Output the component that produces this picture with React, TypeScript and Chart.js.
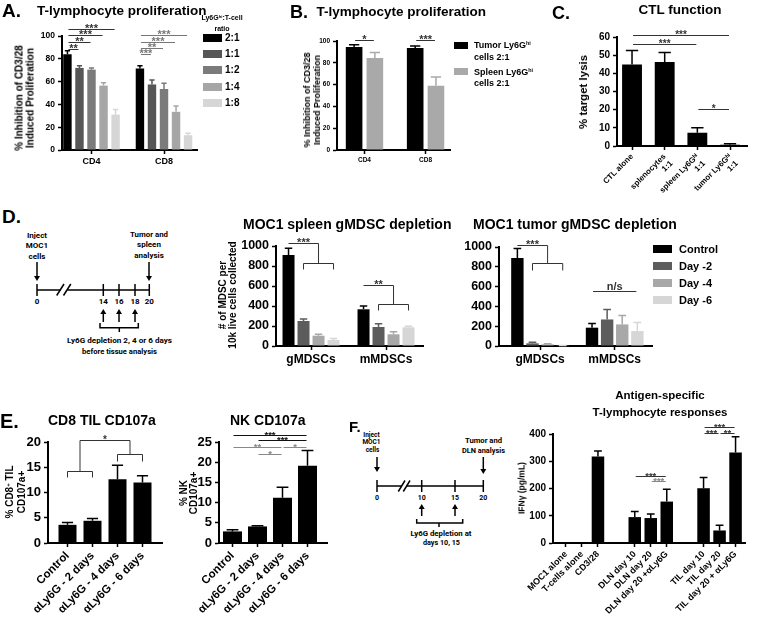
import React, { useEffect, useRef } from 'react';
import { Chart, registerables } from 'chart.js';

Chart.register(...registerables);

const FONT = "'Liberation Sans', Arial, Helvetica, sans-serif";
const TFONT = "Roboto, 'Liberation Sans', sans-serif";
Chart.defaults.font.family = FONT;
Chart.defaults.font.weight = 'bold';
Chart.defaults.color = '#000';

// ---------------- DATA ----------------
// A. T-lymphocyte proliferation
const aCategories = ['CD4', 'CD8'];
const aSeries = ['2:1', '1:1', '1:2', '1:4', '1:8'];
const aValues = [[84, 71.5], [72, 57.5], [70.5, 53.5], [56.5, 33.5], [31, 13]];
const aErrors = [[3, 2.5], [2, 4], [1.5, 5], [2.5, 5], [4.5, 1.7]];

// B. T-lymphocyte proliferation (tumor vs spleen)
const bCategories = ['CD4', 'CD8'];
const bSeries = ['Tumor', 'Spleen'];
const bValues = [[94.5, 93.5], [84.5, 59]];
const bErrors = [[2, 2], [5, 8]];

// C. CTL function
const cCategories = ['CTL alone', ['splenocytes', '1:1'], ['spleen Ly6Gʰⁱ', '1:1'], ['tumor Ly6Gʰⁱ', '1:1']];
const cValues = [44.8, 46.2, 7.3, 0.7];
const cErrors = [7.8, 5.2, 2.8, 0.6];

// D. gMDSC depletion
const dCategories = ['gMDSCs', 'mMDSCs'];
const dSeries = ['Control', 'Day -2', 'Day -4', 'Day -6'];
const dSpleenValues = [[910, 367], [250, 190], [103, 117], [60, 187]];
const dSpleenErrors = [[67, 33], [20, 33], [14, 26], [16, 10]];
const dTumorValues = [[890, 185], [27, 268], [17, 218], [3, 151]];
const dTumorErrors = [[95, 43], [10, 100], [6, 90], [2, 87]];

// E. CD107a
const eCategories = ['Control', 'αLy6G - 2 days', 'αLy6G - 4 days', 'αLy6G - 6 days'];
const eCd8Values = [3.6, 4.4, 12.6, 12.0];
const eCd8Errors = [0.45, 0.45, 2.8, 1.3];
const eNkValues = [2.87, 4.1, 11.2, 19.1];
const eNkErrors = [0.4, 0.2, 2.6, 3.8];

// F. Antigen-specific responses
const fCategories = ['MOC1 alone', 'T-cells alone', 'CD3/28', 'DLN day 10', 'DLN day 20', 'DLN day 20 +αLy6G', 'TIL day 10', 'TIL day 20', 'TIL day 20 + αLy6G'];
const fGroups = [0, 0, 0, 1, 1, 1, 2, 2, 2];
const fValues = [0, 0, 317, 95, 91.5, 152, 201, 46, 332];
const fErrors = [0, 0, 21, 21, 14.5, 45, 39, 19, 58];

// significance annotations: [dataset, index] refs, y in data units
type Ref2 = [number, number];
type Sig =
  | { kind: 'line'; a: Ref2; b: Ref2; y: number; text: string; color?: string }
  | { kind: 'bracket'; la: Ref2; lb: Ref2; ly: number; lt: number; ra: Ref2; rb: Ref2; ry: number; rt: number; top: number; text: string; color?: string };

const aSig: Sig[] = [
  { kind: 'line', a: [0, 0], b: [1, 0], y: 89, text: '**' },
  { kind: 'line', a: [0, 0], b: [2, 0], y: 94.7, text: '**' },
  { kind: 'line', a: [0, 0], b: [3, 0], y: 100.8, text: '***' },
  { kind: 'line', a: [0, 0], b: [4, 0], y: 106.5, text: '***' },
  { kind: 'line', a: [0, 1], b: [1, 1], y: 84, text: '***', color: '#777' },
  { kind: 'line', a: [0, 1], b: [2, 1], y: 89.8, text: '**', color: '#777' },
  { kind: 'line', a: [0, 1], b: [3, 1], y: 95, text: '***', color: '#777' },
  { kind: 'line', a: [0, 1], b: [4, 1], y: 100.9, text: '***', color: '#777' },
];
const bSig: Sig[] = [
  { kind: 'line', a: [0, 0], b: [1, 0], y: 100.6, text: '*' },
  { kind: 'line', a: [0, 1], b: [1, 1], y: 100.6, text: '***' },
];
const cSig: Sig[] = [
  { kind: 'line', a: [0, 0], b: [0, 2], y: 56.4, text: '***' },
  { kind: 'line', a: [0, 0], b: [0, 3], y: 61.3, text: '***' },
  { kind: 'line', a: [0, 2], b: [0, 3], y: 20.2, text: '*' },
];
const dSpleenSig: Sig[] = [
  { kind: 'bracket', la: [0, 0], lb: [0, 0], ly: 1027, lt: 1027, ra: [1, 0], rb: [3, 0], ry: 833, rt: 770, top: 1027, text: '***' },
  { kind: 'bracket', la: [0, 1], lb: [0, 1], ly: 610, lt: 610, ra: [1, 1], rb: [3, 1], ry: 417, rt: 360, top: 610, text: '**' },
];
const dTumorSig: Sig[] = [
  { kind: 'bracket', la: [0, 0], lb: [0, 0], ly: 1020, lt: 1020, ra: [1, 0], rb: [3, 0], ry: 836, rt: 770, top: 1020, text: '***' },
  { kind: 'line', a: [0, 1], b: [3, 1], y: 555, text: 'n/s' },
];
const eCd8Sig: Sig[] = [
  { kind: 'bracket', la: [0, 0], lb: [0, 1], ly: 14.3, lt: 13.0, ra: [0, 2], rb: [0, 3], ry: 17.6, rt: 16.3, top: 20.3, text: '*' },
];
const eNkSig: Sig[] = [
  { kind: 'line', a: [0, 0], b: [0, 3], y: 26.8, text: '***', color: '#111' },
  { kind: 'line', a: [0, 1], b: [0, 3], y: 25.4, text: '***', color: '#111' },
  { kind: 'line', a: [0, 0], b: [0, 2], y: 23.8, text: '**', color: '#888' },
  { kind: 'line', a: [0, 2], b: [0, 3], y: 23.8, text: '*', color: '#888' },
  { kind: 'line', a: [0, 1], b: [0, 2], y: 22.0, text: '*', color: '#888' },
];
const fSig: Sig[] = [
  { kind: 'line', a: [0, 3], b: [0, 5], y: 247, text: '***' },
  { kind: 'line', a: [0, 4], b: [0, 5], y: 229, text: '***', color: '#888' },
  { kind: 'line', a: [0, 6], b: [0, 8], y: 424, text: '***' },
  { kind: 'line', a: [0, 6], b: [0, 7], y: 402, text: '***' },
  { kind: 'line', a: [0, 7], b: [0, 8], y: 402, text: '**' },
];

// ---------------- STYLES ----------------
const aColors = ['#000000', '#565656', '#7b7b7b', '#a6a6a6', '#d6d6d6'];
const bColors = ['#000000', '#a9a9a9'];
const dColors = ['#000000', '#5c5c5c', '#a8a8a8', '#d6d6d6'];

const YW = 50;
const PADT = 40;
const PADR = 6;

// ---------------- PLUGINS ----------------
const errorBarPlugin = {
  id: 'errbars',
  afterDatasetsDraw(chart: any) {
    const ctx = chart.ctx;
    const ys = chart.scales.y;
    chart.data.datasets.forEach((ds: any, di: number) => {
      if (!ds.errors) return;
      const meta = chart.getDatasetMeta(di);
      ctx.save();
      ctx.strokeStyle = ds.backgroundColor;
      ctx.lineWidth = 1.5;
      meta.data.forEach((bar: any, i: number) => {
        const e = ds.errors[i];
        if (!e) return;
        const v = ds.data[i].y;
        const yTop = ys.getPixelForValue(v + e);
        const w = bar.width * 0.62;
        ctx.beginPath();
        ctx.moveTo(bar.x, bar.y);
        ctx.lineTo(bar.x, yTop);
        ctx.moveTo(bar.x - w / 2, yTop);
        ctx.lineTo(bar.x + w / 2, yTop);
        ctx.stroke();
      });
      ctx.restore();
    });
  },
};

const sigPlugin = {
  id: 'sig',
  afterDatasetsDraw(chart: any, _args: any, opts: any) {
    const items: Sig[] = opts.items || [];
    const size: number = opts.font || 10;
    const ctx = chart.ctx;
    const ys = chart.scales.y;
    const bx = (r: Ref2) => chart.getDatasetMeta(r[0]).data[r[1]].x;
    const py = (v: number) => Math.round(ys.getPixelForValue(v)) + 0.5;
    ctx.save();
    ctx.lineWidth = 1;
    ctx.font = `bold ${size}px ${FONT}`;
    ctx.textAlign = 'center';
    ctx.textBaseline = 'alphabetic';
    const label = (t: string, x: number, y: number) => {
      if (t.includes('*')) ctx.fillText(t, x, y - 2 + 0.43 * size);
      else ctx.fillText(t, x, y - 2);
    };
    const seg = (x1: number, y1: number, x2: number, y2: number) => {
      ctx.beginPath();
      ctx.moveTo(x1, y1);
      ctx.lineTo(x2, y2);
      ctx.stroke();
    };
    for (const it of items) {
      const col = it.color || '#333';
      ctx.strokeStyle = col;
      ctx.fillStyle = col;
      if (it.kind === 'line') {
        const x1 = bx(it.a) + 1;
        const x2 = bx(it.b) - 1;
        const y = py(it.y);
        seg(x1, y, x2, y);
        label(it.text, (x1 + x2) / 2, y);
      } else {
        const la = bx(it.la), lb = bx(it.lb), ra = bx(it.ra), rb = bx(it.rb);
        const ly = py(it.ly), lt = py(it.lt), ry = py(it.ry), rt = py(it.rt), top = py(it.top);
        if (la !== lb) {
          seg(la, lt, la, ly); seg(la, ly, lb, ly); seg(lb, ly, lb, lt);
        }
        if (ra !== rb) {
          seg(ra, rt, ra, ry); seg(ra, ry, rb, ry); seg(rb, ry, rb, rt);
        }
        const xl = (la + lb) / 2, xr = (ra + rb) / 2;
        if (ly !== top) seg(xl, ly, xl, top);
        if (ry !== top) seg(xr, ry, xr, top);
        seg(xl, top, xr, top);
        label(it.text, (xl + xr) / 2, top);
      }
    }
    ctx.restore();
  },
};

// ---------------- CHART COMPONENT ----------------
type Series = { label: string; color: string; values: number[]; errors: number[] };
type Spec = {
  X0: number; X1: number; Yt: number; Yb: number; xH: number;
  categories: (string | string[])[]; xPos: number[]; xMin: number; xMax: number;
  series: Series[]; yMax: number; yStep: number; yFont: number; xFont: number; rot: number;
  catPct: number; barPct: number; sig: Sig[]; sigFont: number;
};

function BarChart({ spec }: { spec: Spec }) {
  const ref = useRef<HTMLCanvasElement>(null);
  const left = spec.X0 - YW;
  const top = spec.Yt - PADT;
  const width = spec.X1 - left + PADR;
  const height = spec.Yb - top + spec.xH;
  useEffect(() => {
    const chart = new Chart(ref.current as HTMLCanvasElement, {
      type: 'bar',
      data: {
        datasets: spec.series.map((s) => ({
          label: s.label,
          data: s.values.map((v, i) => ({ x: spec.xPos[i], y: v })),
          backgroundColor: s.color,
          borderWidth: 0,
          categoryPercentage: spec.catPct,
          barPercentage: spec.barPct,
          errors: s.errors,
        })) as any,
      },
      options: {
        animation: false,
        responsive: false,
        devicePixelRatio: 1,
        events: [],
        layout: { padding: { top: PADT, right: PADR, left: 0, bottom: 0 } },
        plugins: {
          legend: { display: false },
          tooltip: { enabled: false },
          sig: { items: spec.sig, font: spec.sigFont },
        } as any,
        scales: {
          x: {
            type: 'linear',
            min: spec.xMin,
            max: spec.xMax,
            offset: false,
            afterBuildTicks: (s: any) => {
              s.ticks = spec.xPos.map((v) => ({ value: v }));
            },
            afterFit: (s: any) => {
              s.height = spec.xH;
            },
            ticks: {
              autoSkip: false,
              minRotation: spec.rot,
              maxRotation: spec.rot,
              padding: 2,
              font: { size: spec.xFont, weight: 'bold' },
              color: '#000',
              callback: (_v: any, i: number) => spec.categories[i] as any,
            },
            grid: {
              display: true,
              drawOnChartArea: false,
              drawTicks: true,
              tickLength: 4,
              tickColor: '#000',
              tickWidth: 1.5,
              offset: false,
            },
            border: { display: true, color: '#000', width: 2 },
          } as any,
          y: {
            min: 0,
            max: spec.yMax,
            afterFit: (s: any) => {
              s.width = YW;
            },
            ticks: {
              stepSize: spec.yStep,
              padding: 3,
              font: { size: spec.yFont, weight: 'bold' },
              color: '#000',
              callback: (v: any) => String(v),
            },
            grid: { display: true, drawOnChartArea: false, drawTicks: true, tickLength: 4, tickColor: '#000', tickWidth: 1.5 },
            border: { display: true, color: '#000', width: 2 },
          } as any,
        },
      },
      plugins: [errorBarPlugin, sigPlugin],
    });
    return () => chart.destroy();
  }, []);
  return (
    <canvas
      ref={ref}
      width={width}
      height={height}
      style={{ position: 'absolute', left, top, width, height }}
    />
  );
}

// ---------------- TEXT HELPERS ----------------
const Sup = ({ children }: { children: any }) => (
  <sup style={{ fontSize: '0.6em', verticalAlign: 'baseline', position: 'relative', top: '-0.5em' }}>{children}</sup>
);

function T({ x, y, size, children, center = false, weight = 700 }: any) {
  return (
    <div
      style={{
        position: 'absolute', left: x, top: y, fontFamily: FONT, fontWeight: weight, fontSize: size,
        lineHeight: 1, whiteSpace: 'nowrap', color: '#000',
        transform: center ? 'translate(-50%,-50%)' : 'translateY(-50%)',
      }}
    >
      {children}
    </div>
  );
}

function VT({ x, y, size, lh, lines }: any) {
  return (
    <div
      style={{
        position: 'absolute', left: x, top: y, fontFamily: FONT, fontWeight: 700, fontSize: size,
        lineHeight: `${lh}px`, whiteSpace: 'nowrap', textAlign: 'center', color: '#000',
        transform: 'translate(-50%,-50%) rotate(-90deg)',
      }}
    >
      {lines.map((l: any, i: number) => (
        <div key={i}>{l}</div>
      ))}
    </div>
  );
}

function Box({ x, yc, w, h, color }: any) {
  return <div style={{ position: 'absolute', left: x, top: yc - h / 2, width: w, height: h, background: color }} />;
}

// ---------------- TIMELINES ----------------
function Timelines() {
  const st: any = { stroke: '#000', strokeWidth: 1.5, fill: 'none' };
  const down = (x: number, y1: number, y2: number) => (
    <g key={`d${x}${y1}`}>
      <line x1={x} y1={y1} x2={x} y2={y2 - 4} {...st} />
      <path d={`M${x - 3},${y2 - 5} L${x + 3},${y2 - 5} L${x},${y2} Z`} fill="#000" />
    </g>
  );
  const up = (x: number, y1: number, y2: number) => (
    <g key={`u${x}${y1}`}>
      <line x1={x} y1={y1} x2={x} y2={y2 + 4} {...st} />
      <path d={`M${x - 3},${y2 + 5} L${x + 3},${y2 + 5} L${x},${y2} Z`} fill="#000" />
    </g>
  );
  const txt = (x: number, y: number, s: string, size: number, len?: number) => (
    <text
      key={`t${x}${y}${s}`}
      x={x} y={y} fontSize={size} fontFamily={TFONT} fontWeight={700}
      textAnchor="middle" dominantBaseline="central"
      {...(len ? { textLength: len, lengthAdjust: 'spacingAndGlyphs' } : {})}
    >
      {s}
    </text>
  );
  const dTicks = [37, 103.3, 119, 135, 149.3];
  const dNums = ['0', '14', '16', '18', '20'];
  const fTicks = [377, 421.7, 455, 483.3];
  const fNums = ['0', '10', '15', '20'];
  return (
    <svg width={758} height={623} style={{ position: 'absolute', left: 0, top: 0 }}>
      {/* D timeline */}
      {txt(37, 235, 'Inject', 8)}
      {txt(37, 245.5, 'MOC1', 8)}
      {txt(37, 256, 'cells', 8)}
      {down(37, 262, 281)}
      {txt(149, 234, 'Tumor and', 8, 38)}
      {txt(149, 244.5, 'spleen', 8)}
      {txt(149, 255, 'analysis', 8)}
      {down(149, 262, 281)}
      <line x1={37} y1={290} x2={60.5} y2={290} {...st} />
      <line x1={67.5} y1={290} x2={149.3} y2={290} {...st} />
      <line x1={56.7} y1={295.5} x2={64} y2={284} {...st} />
      <line x1={63.5} y1={295.5} x2={70.8} y2={284} {...st} />
      {dTicks.map((x) => <line key={`dt${x}`} x1={x} y1={284} x2={x} y2={296} {...st} />)}
      {dTicks.map((x, i) => txt(x, 301.5, dNums[i], 8))}
      {[103.3, 119, 135].map((x) => up(x, 322, 309))}
      <path d="M100,323 V327.7 H138.3 V323 M119.3,327.7 V332" {...st} />
      {txt(119.5, 340, 'Ly6G depletion 2, 4 or 6 days', 8, 105)}
      {txt(119.5, 351, 'before tissue analysis', 8, 75)}

      {/* F timeline */}
      {txt(371.5, 434.5, 'Inject', 6.5)}
      {txt(371.5, 442, 'MOC1', 6.5)}
      {txt(372.5, 449.5, 'cells', 6.5)}
      {down(377, 457, 472)}
      {txt(483.5, 441, 'Tumor and', 7, 37)}
      {txt(483.5, 451, 'DLN analysis', 7, 43)}
      {down(483.3, 457, 474)}
      <line x1={377} y1={486} x2={401} y2={486} {...st} />
      <line x1={407} y1={486} x2={483.3} y2={486} {...st} />
      <line x1={398.3} y1={491.5} x2={405} y2={480.5} {...st} />
      <line x1={403.3} y1={491.5} x2={410} y2={480.5} {...st} />
      {fTicks.map((x) => <line key={`ft${x}`} x1={x} y1={480} x2={x} y2={492} {...st} />)}
      {fTicks.map((x, i) => txt(x, 497.5, fNums[i], 7))}
      {[421.7, 455].map((x) => up(x, 516, 504))}
      <path d="M416.7,519 V523 H462.7 V519 M439,523 V527" {...st} />
      {txt(441, 534, 'Ly6G depletion at', 7, 61)}
      {txt(441.5, 543, 'days 10, 15', 7, 37)}
    </svg>
  );
}

// ---------------- SPECS ----------------
const mk = (names: string[], colors: string[], vals: number[][], errs: number[][]): Series[] =>
  names.map((n, i) => ({ label: n, color: colors[i], values: vals[i], errors: errs[i] }));

const specA: Spec = {
  X0: 62, X1: 197, Yt: 36, Yb: 150, xH: 25,
  categories: aCategories, xPos: [0, 1], xMin: -0.407, xMax: 1.455,
  series: mk(aSeries, aColors, aValues, aErrors),
  yMax: 100, yStep: 20, yFont: 8.5, xFont: 9, rot: 0, catPct: 0.83, barPct: 0.7, sig: aSig, sigFont: 11,
};
const specB: Spec = {
  X0: 337, X1: 450, Yt: 41, Yb: 150, xH: 25,
  categories: bCategories, xPos: [0, 1], xMin: -0.45, xMax: 1.4,
  series: mk(bSeries, bColors, bValues, bErrors),
  yMax: 100, yStep: 20, yFont: 6.5, xFont: 6.5, rot: 0, catPct: 0.68, barPct: 0.8, sig: bSig, sigFont: 11,
};
const specC: Spec = {
  X0: 617, X1: 747, Yt: 37, Yb: 146, xH: 60,
  categories: cCategories, xPos: [0, 1, 2, 3], xMin: -0.46, xMax: 3.52,
  series: [{ label: 'CTL', color: '#000', values: cValues, errors: cErrors }],
  yMax: 60, yStep: 10, yFont: 10, xFont: 8, rot: 45, catPct: 0.8, barPct: 0.76, sig: cSig, sigFont: 10,
};
const specDS: Spec = {
  X0: 276, X1: 423, Yt: 246, Yb: 346, xH: 25,
  categories: dCategories, xPos: [0, 1], xMin: -0.467, xMax: 1.493,
  series: mk(dSeries, dColors, dSpleenValues, dSpleenErrors),
  yMax: 1000, yStep: 200, yFont: 12.5, xFont: 12, rot: 0, catPct: 0.8, barPct: 0.8, sig: dSpleenSig, sigFont: 11,
};
const specDT: Spec = {
  X0: 499, X1: 652, Yt: 247, Yb: 346, xH: 25,
  categories: dCategories, xPos: [0, 1], xMin: -0.55, xMax: 1.5,
  series: mk(dSeries, dColors, dTumorValues, dTumorErrors),
  yMax: 1000, yStep: 200, yFont: 12.5, xFont: 12, rot: 0, catPct: 0.81, barPct: 0.82, sig: dTumorSig, sigFont: 11,
};
const specE1: Spec = {
  X0: 48, X1: 162, Yt: 442, Yb: 543, xH: 80,
  categories: eCategories, xPos: [0, 1, 2, 3], xMin: -0.78, xMax: 3.78,
  series: [{ label: 'CD8', color: '#000', values: eCd8Values, errors: eCd8Errors }],
  yMax: 20, yStep: 5, yFont: 13, xFont: 11.5, rot: 45, catPct: 0.9, barPct: 0.8, sig: eCd8Sig, sigFont: 10,
};
const specE2: Spec = {
  X0: 219, X1: 327, Yt: 442, Yb: 543, xH: 80,
  categories: eCategories, xPos: [0, 1, 2, 3], xMin: -0.54, xMax: 3.78,
  series: [{ label: 'NK', color: '#000', values: eNkValues, errors: eNkErrors }],
  yMax: 25, yStep: 5, yFont: 13, xFont: 11.5, rot: 45, catPct: 0.9, barPct: 0.845, sig: eNkSig, sigFont: 9.5,
};
const specF: Spec = {
  X0: 553, X1: 745, Yt: 434, Yb: 543, xH: 80,
  categories: fCategories, xPos: fCategories.map((_, i) => i + fGroups[i] * 1.3), xMin: -0.81, xMax: 11.19,
  series: [{ label: 'IFNg', color: '#000', values: fValues, errors: fErrors }],
  yMax: 400, yStep: 100, yFont: 10, xFont: 9, rot: 45, catPct: 0.9, barPct: 0.87, sig: fSig, sigFont: 9.5,
};

// ---------------- APP ----------------
export default function App() {
  const aLegendY = [38, 54, 70, 86.5, 103];
  const bLegendY = [45, 71.7];
  const dLegendY = [248.5, 265.5, 283, 299.5];
  return (
    <div style={{ position: 'absolute', left: 0, top: 0, width: 758, height: 623, background: '#fff', overflow: 'hidden', fontFamily: FONT }}>
      <Timelines />
      {[specA, specB, specC, specDS, specDT, specE1, specE2, specF].map((s, i) => (
        <BarChart key={i} spec={s} />
      ))}

      {/* panel letters */}
      <T x={2} y={10} size={19}>A.</T>
      <T x={290} y={11.5} size={18}>B.</T>
      <T x={552} y={12.5} size={18}>C.</T>
      <T x={2} y={216} size={19}>D.</T>
      <T x={0} y={420.5} size={20}>E.</T>
      <T x={349} y={425.5} size={15}>F.</T>

      {/* titles */}
      <T x={37} y={10.5} size={13.5}>T-lymphocyte proliferation</T>
      <T x={316.5} y={11.5} size={13.5}>T-lymphocyte proliferation</T>
      <T x={680} y={9.5} size={13.5} center>CTL function</T>
      <T x={243} y={224} size={14}>MOC1 spleen gMDSC depletion</T>
      <T x={473} y={224} size={14}>MOC1 tumor gMDSC depletion</T>
      <T x={48} y={420} size={14}>CD8 TIL CD107a</T>
      <T x={230} y={420} size={14}>NK CD107a</T>
      <T x={660} y={396} size={11.5} center>Antigen-specific</T>
      <T x={660} y={412.5} size={11.5} center>T-lymphocyte responses</T>

      {/* y axis titles */}
      <VT x={25} y={97.5} size={10} lh={10.5} lines={['% Inhibition of CD3/28', 'Induced Proliferation']} />
      <VT x={312} y={99.5} size={9} lh={10} lines={['% Inhibition of CD3/28', 'Induced Proliferation']} />
      <VT x={582.5} y={91.5} size={11.5} lh={12} lines={['% target lysis']} />
      <VT x={226.5} y={294.5} size={10} lh={9.5} lines={['# of MDSC per', '10k live cells collected']} />
      <VT x={14.5} y={492} size={10} lh={9.5} lines={[<span key="a">% CD8<Sup>+</Sup> TIL</span>, 'CD107a+']} />
      <VT x={188} y={493} size={10} lh={9.5} lines={['% NK', 'CD107a+']} />
      <VT x={521.5} y={487.5} size={8.5} lh={9} lines={['IFNγ (pg/mL)']} />

      {/* legend A */}
      <T x={222} y={18} size={7} center>Ly6G<Sup>hi</Sup>:T-cell</T>
      <T x={222} y={28} size={7} center>ratio</T>
      {aSeries.map((n, i) => (
        <React.Fragment key={n}>
          <Box x={203} yc={aLegendY[i]} w={19} h={8} color={aColors[i]} />
          <T x={225} y={aLegendY[i]} size={10}>{n}</T>
        </React.Fragment>
      ))}

      {/* legend B */}
      {bSeries.map((n, i) => (
        <React.Fragment key={n}>
          <Box x={454} yc={bLegendY[i]} w={14} h={7} color={bColors[i]} />
          <T x={474} y={bLegendY[i]} size={9}>{n} Ly6G<Sup>hi</Sup></T>
          <T x={474} y={bLegendY[i] + 11.5} size={9}>cells 2:1</T>
        </React.Fragment>
      ))}

      {/* legend D */}
      {dSeries.map((n, i) => (
        <React.Fragment key={n}>
          <Box x={653} yc={dLegendY[i]} w={19} h={8} color={dColors[i]} />
          <T x={679} y={dLegendY[i]} size={11}>{n}</T>
        </React.Fragment>
      ))}
    </div>
  );
}
